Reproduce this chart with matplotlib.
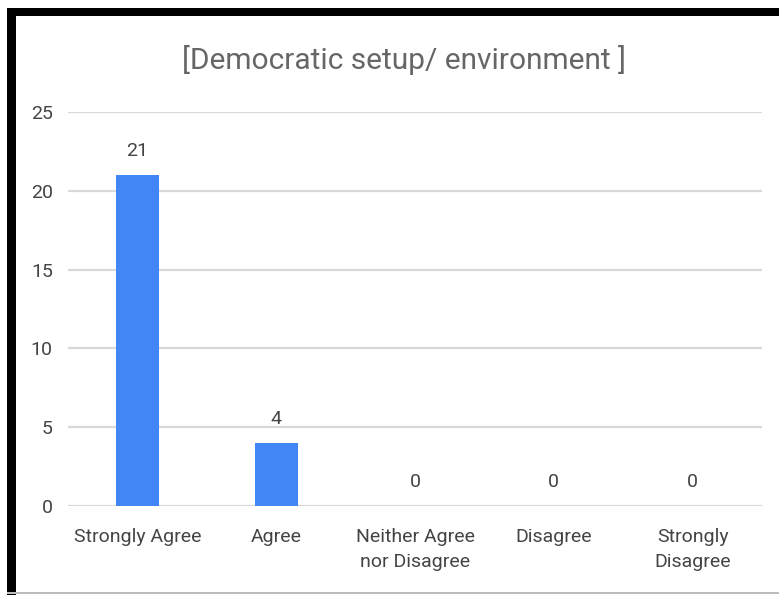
import matplotlib
matplotlib.use("Agg")
import matplotlib.pyplot as plt
from matplotlib.patches import Rectangle

plt.rcParams['font.family'] = ['Roboto', 'DejaVu Sans']

categories = ["Strongly Agree", "Agree", "Neither Agree\nnor Disagree", "Disagree", "Strongly\nDisagree"]
counts = [21, 4, 0, 0, 0]
y_ticks = [0, 5, 10, 15, 20, 25]
title = "[Democratic setup/ environment ]"

W, H = 779, 595
fig = plt.figure(figsize=(W / 100, H / 100), dpi=100)
fig.patch.set_facecolor("white")

ax = fig.add_axes([68 / W, 89 / H, (762 - 68) / W, (506 - 112) / H])
x = list(range(len(categories)))
ax.bar(x, counts, width=0.31, color="#4285f4", zorder=3)
ax.set_xlim(-0.5, len(categories) - 0.5)
ax.set_ylim(0, 25)
ax.set_yticks(y_ticks)
ax.set_xticks(x)
ax.set_xticklabels(categories, fontsize=14, color="#444444", linespacing=1.55)
ax.tick_params(axis="y", labelsize=14, labelcolor="#444444", length=0, pad=11)
ax.tick_params(axis="x", length=0, pad=15.5)
ax.grid(axis="y", color="#d9d9d9", linewidth=1.6, zorder=0)
for s in ax.spines.values():
    s.set_visible(False)

for xi, v in zip(x, counts):
    ax.annotate(str(v), (xi, v), xytext=(0, 11), textcoords="offset points",
                ha="center", va="bottom", fontsize=14, color="#444444")

fig.text(404 / W, 1 - 60 / H, title, ha="center", va="center",
         fontsize=21.5, color="#666666")

# frame around the chart
fig.patches.append(Rectangle((7 / W, 0), 9 / W, (H - 8) / H, transform=fig.transFigure,
                             facecolor="black", edgecolor="none"))
fig.patches.append(Rectangle((7 / W, 1 - 16 / H), (W - 7) / W, 8 / H, transform=fig.transFigure,
                             facecolor="black", edgecolor="none"))
fig.patches.append(Rectangle((7 / W, 1 - 594 / H), (W - 7) / W, 2 / H, transform=fig.transFigure,
                             facecolor="#bdbdbd", edgecolor="none"))

fig.savefig("out.png", dpi=100)
